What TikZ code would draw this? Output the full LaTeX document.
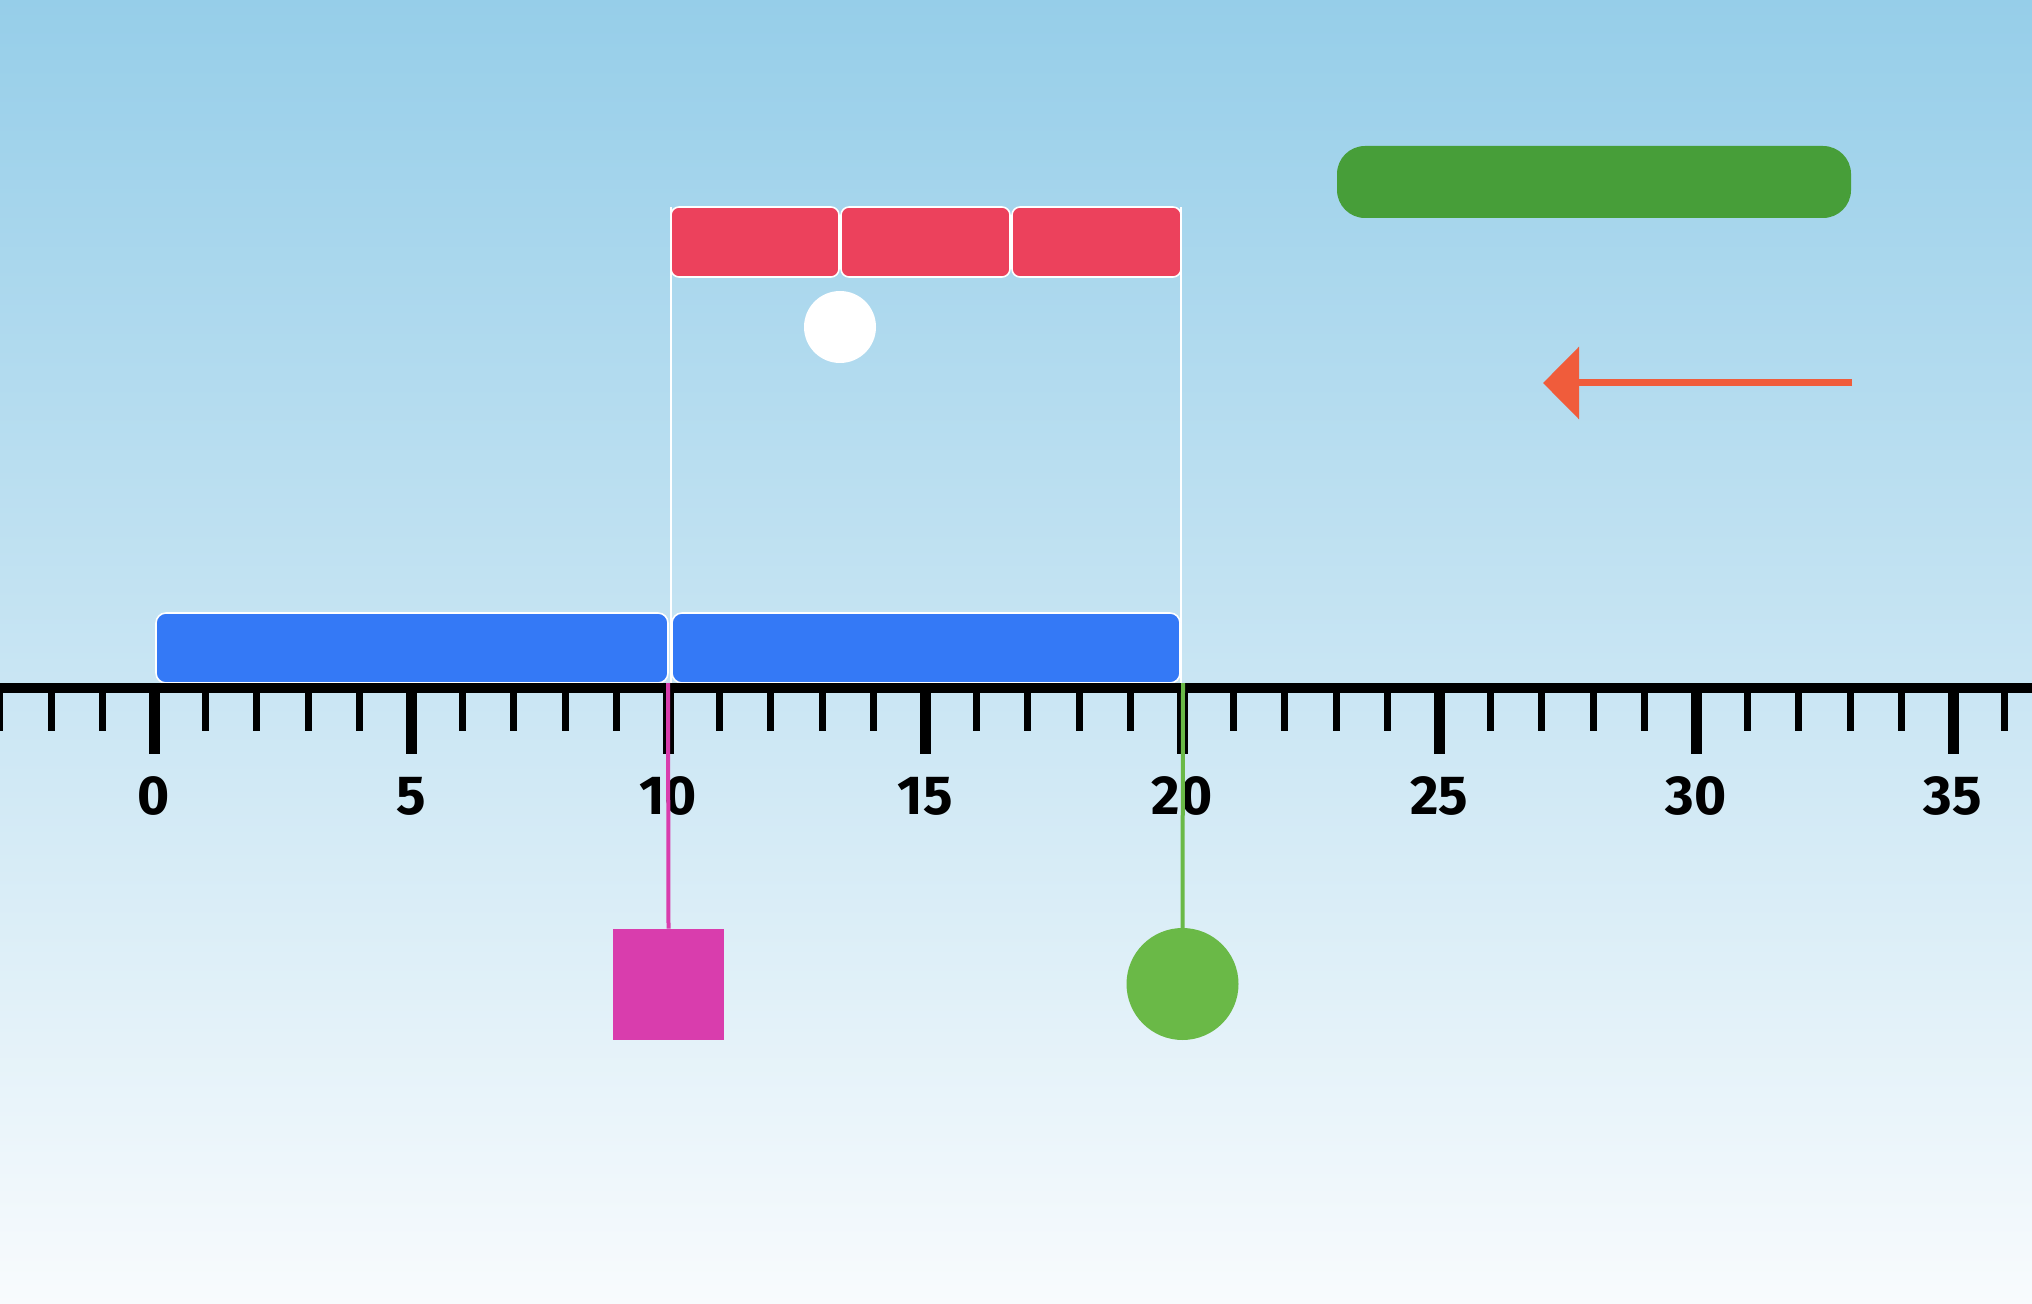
\documentclass[tikz,border=0pt]{standalone}
\usepackage{fontspec}
\setmainfont{Fira Sans}
\usetikzlibrary{arrows.meta}
\definecolor{bgtop}{RGB}{150,206,233}
\definecolor{bgbot}{RGB}{248,251,253}
\definecolor{barblue}{RGB}{52,121,246}
\definecolor{barred}{RGB}{236,65,92}
\definecolor{bargreen}{RGB}{71,158,57}
\definecolor{arrowor}{RGB}{240,92,59}
\definecolor{pinkc}{RGB}{217,61,173}
\definecolor{greenc}{RGB}{106,185,71}
\begin{document}
\begin{tikzpicture}[x=0.5pt,y=-0.5pt,
  bluebar/.style={fill=barblue,draw=white,line width=0.8pt,rounded corners=5pt},
  redbar/.style={fill=barred,draw=white,line width=0.8pt,rounded corners=4pt},
  guide/.style={draw=white,line width=1.3pt},
  minortick/.style={draw=black,line width=3.5pt},
  majortick/.style={draw=black,line width=5.5pt},
  numlabel/.style={font=\fontsize{27.5}{30}\selectfont\bfseries,inner sep=0pt},
  pinksq/.style={fill=pinkc,minimum size=55.5pt,inner sep=0pt,outer sep=0pt},
  greendot/.style={circle,fill=greenc,minimum size=56pt,inner sep=0pt,outer sep=0pt},
  whitedot/.style={circle,fill=white,minimum size=36pt,inner sep=0pt,outer sep=0pt},
  hangline/.style={line width=2pt}]
\useasboundingbox (0,0) rectangle (2032,1304);
\shade[top color=bgtop,bottom color=bgbot] (0,0) rectangle (2032,1304);
% guides
\draw[guide] (671,207) -- (671,683);
\draw[guide] (1181,207) -- (1181,683);
% red bars
\draw[redbar] (671,207) rectangle (839,277);
\draw[redbar] (841,207) rectangle (1010,277);
\draw[redbar] (1012,207) rectangle (1181,277);
\node[whitedot] (dot) at (840,327) {};
% blue bars
\draw[bluebar] (156,613) rectangle (668,683);
\draw[bluebar] (672,613) rectangle (1180,683);
% green bar
\fill[bargreen,rounded corners=14pt] (1337,146) rectangle (1851,218);
% arrow
\coordinate (as) at (1852,383);
\coordinate (ae) at (1543,383);
\draw[arrowor,line width=3.5pt,-{Triangle[length=18pt,width=35.5pt]}] (as) -- (ae);
% axis
\draw[line width=5pt] (0,688) -- (2032,688);
\foreach \i in {-3,...,36} {
  \draw[minortick] ({154+51.4*\i},688) -- ({154+51.4*\i},731);
}
\foreach \i in {0,5,...,35} {
  \draw[majortick] ({154+51.4*\i},688) -- ({154+51.4*\i},754);
  \node[numlabel] (l\i) at ({154+51.4*\i},796) {\i};
}
% hanging shapes
\coordinate (t10) at (668,683);
\coordinate (t20) at (1183,683);
\node[pinksq] (sq) at (668.5,984) {};
\node[greendot] (gd) at (1182.5,984) {};
\draw[pinkc,hangline] (t10) -- (sq.north);
\draw[greenc,hangline] (t20) -- (gd.north);
\end{tikzpicture}
\end{document}
